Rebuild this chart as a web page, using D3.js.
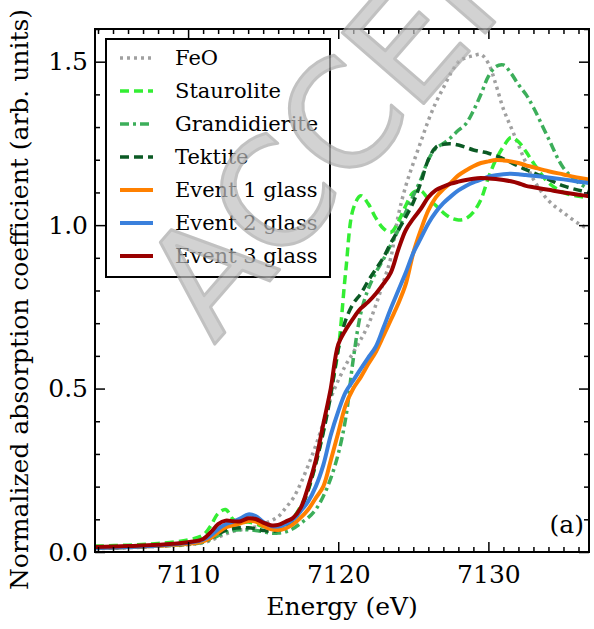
<!DOCTYPE html>
<html>
<head>
<meta charset="utf-8">
<script src="https://cdn.jsdelivr.net/npm/d3@7"></script>
<style>
  body { margin: 0; background: #fff; }
  text { font-family: "DejaVu Serif", serif; fill: #000; }
</style>
</head>
<body>
<div id="chart"></div>
<script>
// energy grid (eV) shared by every spectrum
const energy = [7103.8, 7106, 7108, 7110, 7111,
    7111.5, 7112, 7112.5, 7113, 7113.5, 7114, 7114.5, 7115, 7115.5, 7116, 7116.5, 7117, 7117.5,
    7118, 7118.5, 7119, 7119.5, 7120, 7120.5, 7121, 7121.5, 7122, 7122.5, 7123, 7123.5,
    7124, 7124.5, 7125, 7125.5, 7126, 7126.5, 7127, 7127.5, 7128, 7128.5, 7129, 7129.5,
    7130, 7130.5, 7131, 7131.5, 7132, 7132.5, 7133, 7134, 7135, 7136, 7136.8];

const feo = [0.010, 0.013, 0.017, 0.022, 0.028,
    0.035, 0.045, 0.055, 0.063, 0.068, 0.072, 0.077, 0.085, 0.095, 0.108, 0.135, 0.165, 0.210,
    0.265, 0.325, 0.395, 0.470, 0.525, 0.572, 0.610, 0.650, 0.695, 0.755, 0.825, 0.900,
    1.030, 1.120, 1.190, 1.255, 1.320, 1.375, 1.420, 1.465, 1.500, 1.512, 1.518, 1.522,
    1.495, 1.430, 1.355, 1.300, 1.245, 1.190, 1.140, 1.075, 1.038, 1.005, 0.986];

const staurolite = [0.018, 0.021, 0.026, 0.037, 0.052,
    0.080, 0.118, 0.130, 0.100, 0.090, 0.092, 0.086, 0.078, 0.075, 0.078, 0.088, 0.105, 0.140,
    0.190, 0.270, 0.370, 0.490, 0.620, 0.860, 1.050, 1.090, 1.065, 1.022, 0.990, 0.978,
    1.010, 1.060, 1.100, 1.105, 1.080, 1.060, 1.038, 1.022, 1.016, 1.020, 1.040, 1.078,
    1.145, 1.200, 1.240, 1.268, 1.255, 1.225, 1.190, 1.130, 1.100, 1.088, 1.083];

const grandidierite = [0.012, 0.014, 0.018, 0.023, 0.030,
    0.038, 0.050, 0.060, 0.066, 0.068, 0.068, 0.066, 0.062, 0.058, 0.058, 0.062, 0.072, 0.088,
    0.105, 0.130, 0.170, 0.225, 0.300, 0.410, 0.590, 0.730, 0.805, 0.855, 0.895, 0.940,
    0.985, 1.040, 1.090, 1.140, 1.200, 1.235, 1.250, 1.268, 1.290, 1.310, 1.350, 1.400,
    1.455, 1.485, 1.490, 1.465, 1.430, 1.400, 1.360, 1.265, 1.175, 1.130, 1.108];

const tektite = [0.012, 0.015, 0.019, 0.025, 0.033,
    0.042, 0.055, 0.066, 0.072, 0.074, 0.074, 0.071, 0.066, 0.063, 0.066, 0.075, 0.095, 0.130,
    0.190, 0.270, 0.365, 0.480, 0.620, 0.710, 0.760, 0.790, 0.830, 0.865, 0.900, 0.945,
    0.985, 1.025, 1.070, 1.130, 1.200, 1.238, 1.247, 1.249, 1.245, 1.238, 1.230, 1.225,
    1.220, 1.212, 1.203, 1.192, 1.180, 1.170, 1.160, 1.140, 1.120, 1.107, 1.098];

const event1 = [0.012, 0.015, 0.019, 0.025, 0.033,
    0.043, 0.060, 0.075, 0.082, 0.088, 0.095, 0.093, 0.080, 0.070, 0.067, 0.072, 0.085, 0.105,
    0.130, 0.165, 0.200, 0.280, 0.365, 0.450, 0.500, 0.535, 0.575, 0.612, 0.660, 0.710,
    0.760, 0.820, 0.915, 0.985, 1.045, 1.085, 1.110, 1.130, 1.152, 1.167, 1.180, 1.190,
    1.195, 1.199, 1.198, 1.195, 1.190, 1.183, 1.177, 1.165, 1.155, 1.145, 1.139];

const event2 = [0.012, 0.015, 0.020, 0.028, 0.038,
    0.050, 0.070, 0.085, 0.093, 0.103, 0.115, 0.110, 0.092, 0.080, 0.078, 0.085, 0.100, 0.125,
    0.155, 0.200, 0.265, 0.357, 0.430, 0.490, 0.525, 0.560, 0.595, 0.628, 0.685, 0.745,
    0.800, 0.855, 0.915, 0.960, 1.005, 1.040, 1.067, 1.088, 1.106, 1.120, 1.131, 1.139,
    1.148, 1.153, 1.156, 1.157, 1.156, 1.153, 1.151, 1.146, 1.140, 1.133, 1.128];

const event3 = [0.015, 0.018, 0.022, 0.030, 0.040,
    0.060, 0.085, 0.096, 0.094, 0.094, 0.103, 0.101, 0.090, 0.082, 0.083, 0.093, 0.105, 0.135,
    0.200, 0.280, 0.390, 0.500, 0.635, 0.680, 0.715, 0.745, 0.765, 0.790, 0.820, 0.855,
    0.925, 0.985, 1.020, 1.050, 1.085, 1.107, 1.118, 1.127, 1.133, 1.138, 1.142, 1.144,
    1.143, 1.141, 1.138, 1.134, 1.128, 1.120, 1.116, 1.108, 1.100, 1.093, 1.088];

const seriesNames = ["FeO", "Staurolite", "Grandidierite", "Tektite",
    "Event 1 glass", "Event 2 glass", "Event 3 glass"];
const seriesValues = [feo, staurolite, grandidierite, tektite, event1, event2, event3];

const xTicks = [7110, 7120, 7130];
const yTicks = [0.0, 0.5, 1.0, 1.5];

// styles per series (same order as seriesNames)
const colors = ["#a0a0a0", "#33ee33", "#3cae5a", "#0b5a24", "#ff8000", "#3a80dc", "#990000"];
const dashes = ["3,4", "9,5", "9,4,3,4", "9,5", null, null, null];
const widths = [3.5, 3.5, 3.5, 3.5, 4, 4, 4];

const width = 594, height = 629;
const margin = { top: 29, right: 5, bottom: 77, left: 95 };
const innerW = width - margin.left - margin.right;
const innerH = height - margin.top - margin.bottom;

const svg = d3.select("#chart").append("svg")
    .attr("width", width)
    .attr("height", height);

const g = svg.append("g")
    .attr("transform", `translate(${margin.left},${margin.top})`);

const x = d3.scaleLinear().domain([7103.8, 7136.7]).range([0, innerW]);
const y = d3.scaleLinear().domain([0, 1.6]).range([innerH, 0]);

g.append("clipPath").attr("id", "clip")
    .append("rect").attr("width", innerW).attr("height", innerH);

const line = d3.line()
    .x(d => x(d[0]))
    .y(d => y(d[1]))
    .curve(d3.curveCatmullRom.alpha(0.5));

const plot = g.append("g").attr("clip-path", "url(#clip)");
seriesValues.forEach((vals, i) => {
    plot.append("path")
        .datum(energy.map((e, k) => [e, vals[k]]))
        .attr("fill", "none")
        .attr("stroke", colors[i])
        .attr("stroke-width", widths[i])
        .attr("stroke-dasharray", dashes[i])
        .attr("stroke-linejoin", "round")
        .attr("d", line);
});

// ticks, all pointing inward
const minorX = d3.range(7104, 7137, 1).filter(v => !xTicks.includes(v));
const minorY = d3.range(0, 1.61, 0.1).filter(v => yTicks.every(t => Math.abs(t - v) > 1e-6));

function styleAxis(sel) {
    sel.select(".domain").remove();
    sel.selectAll("line").attr("stroke", "#000").attr("stroke-width", 1.5);
    sel.selectAll("text").style("font-size", "25px").style("font-family", "DejaVu Serif, serif");
}

g.append("g").attr("transform", `translate(0,${innerH})`)
    .call(d3.axisBottom(x).tickValues(xTicks).tickSize(-10).tickPadding(13).tickFormat(d3.format("d")))
    .call(styleAxis);
g.append("g").attr("transform", `translate(0,${innerH})`)
    .call(d3.axisBottom(x).tickValues(minorX).tickSize(-5).tickFormat(""))
    .call(styleAxis);
g.append("g")
    .call(d3.axisTop(x).tickValues(xTicks).tickSize(-10).tickFormat(""))
    .call(styleAxis);
g.append("g")
    .call(d3.axisTop(x).tickValues(minorX).tickSize(-5).tickFormat(""))
    .call(styleAxis);

g.append("g")
    .call(d3.axisLeft(y).tickValues(yTicks).tickSize(-10).tickPadding(7).tickFormat(d3.format(".1f")))
    .call(styleAxis);
g.append("g")
    .call(d3.axisLeft(y).tickValues(minorY).tickSize(-5).tickFormat(""))
    .call(styleAxis);
g.append("g").attr("transform", `translate(${innerW},0)`)
    .call(d3.axisRight(y).tickValues(yTicks).tickSize(-10).tickFormat(""))
    .call(styleAxis);
g.append("g").attr("transform", `translate(${innerW},0)`)
    .call(d3.axisRight(y).tickValues(minorY).tickSize(-5).tickFormat(""))
    .call(styleAxis);

g.append("rect")
    .attr("width", innerW)
    .attr("height", innerH)
    .attr("fill", "none")
    .attr("stroke", "#000")
    .attr("stroke-width", 2);

// axis titles
g.append("text")
    .attr("x", innerW / 2)
    .attr("y", innerH + 63)
    .attr("text-anchor", "middle")
    .style("font-size", "25px")
    .text("Energy (eV)");

g.append("text")
    .attr("transform", `translate(${-margin.left + 28},${innerH / 2 + 9}) rotate(-90)`)
    .attr("text-anchor", "middle")
    .style("font-size", "25px")
    .text("Normalized absorption coefficient (arb. units)");

g.append("text")
    .attr("x", innerW - 5)
    .attr("y", innerH - 19)
    .attr("text-anchor", "end")
    .style("font-size", "25px")
    .text("(a)");

// legend
const legend = g.append("g").attr("transform", "translate(11,10)");
legend.append("rect")
    .attr("width", 224)
    .attr("height", 238)
    .attr("fill", "#fff")
    .attr("stroke", "#000")
    .attr("stroke-width", 2);

seriesNames.forEach((name, i) => {
    const row = legend.append("g").attr("transform", `translate(0,${19 + i * 33})`);
    row.append("line")
        .attr("x1", 14).attr("x2", 47)
        .attr("stroke", colors[i])
        .attr("stroke-width", widths[i])
        .attr("stroke-dasharray", dashes[i]);
    row.append("text")
        .attr("x", 69)
        .attr("dy", "0.35em")
        .style("font-size", "21px")
        .text(name);
});

// "ACCEPTED" watermark over the figure
svg.append("text")
    .attr("transform", "translate(214,345) rotate(-49)")
    .style("font-family", "DejaVu Sans, sans-serif")
    .style("font-size", "148px")
    .style("fill", "#c0c0c0")
    .style("stroke", "#a8a8a8")
    .style("stroke-width", 3)
    .style("stroke-linejoin", "round")
    .style("opacity", 0.7)
    .text("ACCEPTED");
</script>
</body>
</html>
